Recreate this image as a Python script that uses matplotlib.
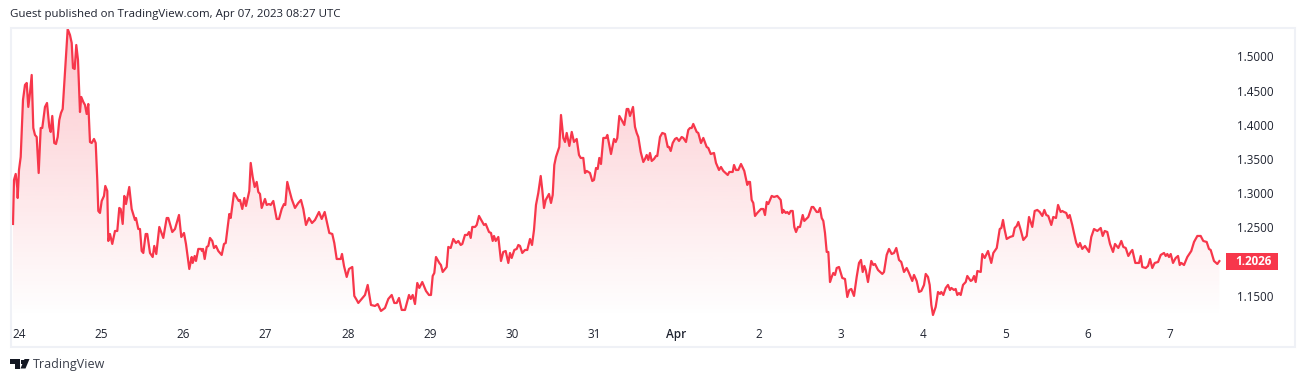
import numpy as np
import matplotlib
matplotlib.use('Agg')
from matplotlib import pyplot as plt
from matplotlib.patches import Rectangle, Polygon

# hours since Mar 24 00:00 UTC
hours = [-1.75,-1.46,-0.96,-0.5,-0.38,0,0.5,1.17,1.75,2.25,2.72,3.21,3.71,4.18,4.67,5.17,5.75,6.34,6.8,7.59,8.18,8.85,9.26,9.72,10.3,10.8,11.3,11.77,12.26,12.76,13.43,14.22,14.89,15.39,15.77,16.26,16.73,17.23,17.81,18.19,18.78,19.27,19.77,20.24,20.73,21.23,21.9,22.4,22.86,23.16,23.65,24.15,24.82,25.2,25.78,26.08,26.57,27.24,28.03,28.7,29.29,29.7,30.28,30.75,31.24,32.2,32.9,33.87,34.16,34.84,35.33,35.83,36.3,36.99,37.46,38.25,39.04,39.5,40.09,40.97,42.14,43.13,43.6,44.76,45.55,46.72,47.39,48.18,48.76,49.73,50.43,50.72,51.3,51.68,52.36,53.14,53.44,53.73,54.22,54.81,55.28,55.77,56.44,56.94,57.52,58.2,59.19,59.86,60.36,61.41,61.82,62.78,63.16,64.15,64.53,65.2,65.79,66.28,67.25,67.66,68.24,68.82,69.41,69.88,70.37,70.87,71.83,72.33,73.0,73.5,74.26,75.25,75.92,76.71,77.38,77.76,78.34,78.93,79.63,80.59,81.55,82.34,83.02,83.8,84.68,85.56,86.43,87.6,88.39,89.26,90.61,91.48,92.07,92.77,93.94,94.32,94.9,95.69,96.36,97.32,97.91,98.61,99.08,99.57,100.53,101.03,101.82,102.78,103.95,104.74,105.7,106.87,107.84,108.83,109.59,110.29,110.96,111.75,112.71,113.88,114.38,114.96,115.63,116.3,116.89,117.76,118.84,119.72,120.3,120.8,121.27,121.76,122.73,123.2,123.72,124.89,125.36,126.06,126.82,127.6,128.28,128.98,129.45,130.23,130.9,131.4,131.9,132.36,133.15,133.65,134.32,135.28,135.78,136.28,137.24,137.82,138.32,138.7,139.2,139.96,140.74,141.41,142.11,142.88,143.37,143.87,144.63,145.33,145.8,146.29,146.96,147.75,148.42,149.21,149.8,150.38,150.96,151.63,152.34,152.8,153.3,153.8,154.76,155.34,155.84,156.31,156.8,157.76,158.26,158.94,159.44,159.93,160.7,161.4,162.06,162.85,163.52,164.02,164.78,165.27,165.77,166.73,167.4,167.9,168.49,168.98,169.45,169.94,170.62,171.4,171.8,172.86,173.74,174.24,174.7,175.3,175.98,176.75,177.45,177.92,178.41,179.29,179.87,180.37,180.84,181.54,182.3,182.79,183.29,183.76,184.25,184.75,185.42,186.0,186.38,187.17,187.84,188.63,189.42,189.8,190.3,190.88,191.55,192.05,192.72,193.5,193.98,194.76,195.43,195.93,196.42,196.89,197.88,198.35,199.14,199.82,200.8,201.28,201.98,202.94,203.52,204.4,204.98,205.66,206.94,207.41,208.4,208.78,209.36,210.04,210.82,211.78,212.66,212.95,213.45,213.94,214.41,214.91,215.58,216.66,217.34,217.83,218.33,218.8,219.79,220.46,221.42,222.42,222.88,223.18,223.88,224.34,224.84,225.34,225.92,226.39,226.89,227.47,228.05,228.84,229.3,230.47,231.46,231.93,232.92,233.4,233.89,234.39,234.86,235.35,235.85,236.32,236.81,237.31,237.78,238.27,238.77,239.44,240.4,241.19,241.86,242.45,243.03,243.82,244.6,245.28,245.86,246.36,246.83,247.24,247.9,248.87,249.46,249.95,250.83,252.08,252.58,253.36,254.04,254.82,255.5,256.17,256.96,257.62,258.42,259.2,259.88,260.84,261.34,262.12,262.8,263.47,264.26,264.76,265.42,265.92,266.4,266.88,267.67,268.35,268.93,269.3,269.9,270.6,271.26,271.85,272.24,273.02,273.5,273.98,274.48,274.98,275.65,276.44,276.9,277.9,278.37,278.87,279.35,279.84,280.83,281.28,281.98,282.95,283.9,284.5,285.5,286.37,286.84,287.33,287.82,288.4,289.37,290.25,290.74,291.33,291.8,292.5,293.26,294.25,294.92,295.88,296.58,297.34,298.05,298.8,299.4,299.96,300.55,301.43,302.0,302.8,303.4,304.17,304.64,305.14,305.8,306.3,306.8,307.55,308.05,308.72,309.3,309.8,310.47,311.26,312.44,313.1,313.9,314.87,315.86,316.44,317.03,317.78,318.57,319.45,320.03,321.0,321.87,322.46,323.16,323.92,324.62,325.1,325.96,327.04,327.54,328.0,329.0,329.67,330.25,330.92,331.62,332.6,333.38,334.34,334.84,335.3,335.8,336.3,336.97,337.75,338.43,338.93,339.4,340.18,341.14,342.3,343.1,344.07,345.05,345.8,346.8,347.47,347.97,348.93,349.9,350.5]

prices = [1.2570,1.3214,1.3302,1.3097,1.2950,1.3360,1.3551,1.4385,1.4605,1.4634,1.4283,1.4488,1.4751,1.3975,1.3873,1.3843,1.3316,1.3975,1.3975,1.4283,1.4341,1.3990,1.3917,1.4151,1.3755,1.3741,1.3843,1.4092,1.4195,1.4253,1.4795,1.5424,1.5337,1.5220,1.4853,1.4839,1.5190,1.4971,1.4209,1.4429,1.4356,1.4312,1.4180,1.4326,1.3770,1.3755,1.3814,1.3755,1.3214,1.2760,1.2731,1.2906,1.2980,1.3126,1.3053,1.2321,1.2423,1.2277,1.2467,1.2467,1.2804,1.2789,1.2570,1.2980,1.2862,1.3111,1.2789,1.2628,1.2657,1.2496,1.2496,1.2174,1.2145,1.2423,1.2423,1.2145,1.2086,1.2248,1.2130,1.2526,1.2365,1.2657,1.2657,1.2452,1.2496,1.2701,1.2379,1.2438,1.2277,1.1911,1.2086,1.1999,1.2101,1.2028,1.2204,1.2204,1.2174,1.2204,1.2057,1.2233,1.2248,1.2365,1.2321,1.2218,1.2248,1.2174,1.2116,1.2277,1.2291,1.2716,1.2657,1.3023,1.2994,1.2906,1.2921,1.2789,1.2950,1.2833,1.3053,1.3463,1.3258,1.3111,1.3185,1.3038,1.3009,1.2804,1.2936,1.2848,1.2862,1.2848,1.2906,1.2643,1.2643,1.2789,1.2862,1.2848,1.3185,1.3067,1.2936,1.2804,1.2877,1.2921,1.2789,1.2555,1.2657,1.2584,1.2628,1.2745,1.2643,1.2745,1.2438,1.2423,1.2291,1.2057,1.2057,1.2130,1.1955,1.1794,1.1911,1.1940,1.1516,1.1457,1.1413,1.1442,1.1501,1.1530,1.1677,1.1384,1.1369,1.1398,1.1296,1.1340,1.1472,1.1530,1.1413,1.1413,1.1486,1.1311,1.1311,1.1530,1.1472,1.1530,1.1398,1.1706,1.1633,1.1720,1.1589,1.1530,1.1530,1.1808,1.1852,1.2086,1.1999,1.1969,1.1867,1.1940,1.2233,1.2218,1.2350,1.2291,1.2321,1.2262,1.2277,1.2409,1.2409,1.2452,1.2365,1.2526,1.2526,1.2555,1.2687,1.2599,1.2555,1.2570,1.2452,1.2438,1.2321,1.2394,1.2321,1.2379,1.2028,1.2160,1.2174,1.1999,1.2145,1.2072,1.2189,1.2204,1.2262,1.2248,1.2145,1.2189,1.2189,1.2350,1.2262,1.2482,1.2848,1.3023,1.3272,1.3067,1.2804,1.2921,1.3009,1.2877,1.2994,1.3433,1.3551,1.3697,1.4165,1.3829,1.3770,1.3902,1.3712,1.3917,1.3770,1.3814,1.3580,1.3536,1.3536,1.3316,1.3346,1.3316,1.3199,1.3214,1.3389,1.3375,1.3536,1.3448,1.3829,1.3829,1.3873,1.3594,1.3814,1.3770,1.3829,1.4151,1.4092,1.4019,1.4253,1.4253,1.4151,1.4283,1.3990,1.3902,1.3843,1.3624,1.3477,1.3521,1.3580,1.3507,1.3609,1.3492,1.3521,1.3565,1.3565,1.3843,1.3902,1.3887,1.3697,1.3697,1.3638,1.3755,1.3814,1.3829,1.3785,1.3843,1.3829,1.3770,1.3946,1.3975,1.3975,1.4034,1.3917,1.3902,1.3755,1.3829,1.3697,1.3682,1.3594,1.3609,1.3463,1.3360,1.3404,1.3346,1.3287,1.3331,1.3331,1.3433,1.3360,1.3360,1.3448,1.3346,1.3141,1.3185,1.3185,1.2921,1.2877,1.2687,1.2731,1.2789,1.2789,1.2701,1.2892,1.2862,1.2980,1.2965,1.2980,1.2921,1.2731,1.2775,1.2731,1.2745,1.2716,1.2760,1.2760,1.2526,1.2452,1.2526,1.2526,1.2701,1.2614,1.2672,1.2818,1.2818,1.2745,1.2745,1.2804,1.2657,1.2614,1.2438,1.2160,1.2160,1.1720,1.1794,1.1852,1.1823,1.1925,1.1940,1.1779,1.1764,1.1501,1.1603,1.1618,1.1516,1.1794,1.1999,1.2043,1.1867,1.1955,1.1896,1.1720,1.2028,1.1969,1.1984,1.1896,1.1838,1.1867,1.2116,1.2204,1.2130,1.2145,1.2218,1.2043,1.2013,1.1867,1.1925,1.1852,1.1735,1.1823,1.1735,1.1574,1.1589,1.1677,1.1838,1.1794,1.1677,1.1384,1.1237,1.1355,1.1574,1.1545,1.1574,1.1530,1.1633,1.1677,1.1603,1.1633,1.1603,1.1618,1.1530,1.1559,1.1530,1.1677,1.1720,1.1808,1.1735,1.1750,1.1808,1.1720,1.1881,1.1867,1.2130,1.2072,1.2174,1.1999,1.2145,1.2218,1.2496,1.2511,1.2628,1.2482,1.2350,1.2379,1.2394,1.2511,1.2540,1.2599,1.2482,1.2335,1.2394,1.2672,1.2526,1.2760,1.2775,1.2745,1.2687,1.2775,1.2701,1.2687,1.2555,1.2672,1.2657,1.2848,1.2745,1.2760,1.2745,1.2731,1.2657,1.2701,1.2555,1.2438,1.2291,1.2233,1.2291,1.2204,1.2248,1.2160,1.2379,1.2496,1.2467,1.2511,1.2394,1.2467,1.2452,1.2277,1.2160,1.2277,1.2218,1.2321,1.2233,1.2218,1.2101,1.2160,1.2189,1.1999,1.1999,1.2101,1.1940,1.1925,1.1955,1.2057,1.1925,1.1999,1.2013,1.2116,1.2145,1.2101,1.2130,1.2086,1.2130,1.1999,1.2072,1.2101,1.1969,1.1999,1.1969,1.2086,1.2174,1.2306,1.2394,1.2394,1.2321,1.2306,1.2204,1.2189,1.2028,1.1984,1.2026]

day_ticks = [0, 24, 48, 72, 96, 120, 144, 168, 192, 216, 240, 264, 288, 312, 336]
day_labels = ['24', '25', '26', '27', '28', '29', '30', '31', 'Apr', '2', '3', '4', '5', '6', '7']
# the 1.2000 label is hidden behind the last price badge in the original
price_ticks = [1.15, 1.25, 1.30, 1.35, 1.40, 1.45, 1.50]
last_price = 1.2026

W, H = 1304, 382
RED = '#f7374b'
TXT = '#1f2330'
plt.rcParams['font.family'] = ['Open Sans', 'DejaVu Sans']

fig = plt.figure(figsize=(W / 100, H / 100), dpi=100, facecolor='white')
ax = fig.add_axes([12 / W, 1 - 318 / H, (1226 - 12) / W, (318 - 27.5) / H])
ax.patch.set_alpha(0)

# outer frame
fig.add_artist(Rectangle((10.5 / W, 1 - 347 / H), 1284 / W, 319.5 / H, transform=fig.transFigure,
                         fill=False, edgecolor='#eff1f6', linewidth=1.5))

# area under the line, fading to nothing at the bottom
xlim = (-2.04, 352.44)
ylim = (1.1193, 1.5446)
alpha = np.linspace(0.28, 0, 256).reshape(-1, 1)
grad = np.zeros((256, 1, 4))
grad[..., 0] = 0xf7 / 255
grad[..., 1] = 0x37 / 255
grad[..., 2] = 0x4b / 255
grad[..., 3] = alpha
im = ax.imshow(grad, extent=[xlim[0], xlim[1], ylim[0], ylim[1]], aspect='auto', origin='upper', zorder=1)
area = ax.fill_between(hours, prices, ylim[0], facecolor='none', edgecolor='none')
im.set_clip_path(area.get_paths()[0], transform=ax.transData)

ax.plot(hours, prices, color=RED, linewidth=1.6, solid_joinstyle='round', zorder=2)
ax.set_xlim(xlim)
ax.set_ylim(ylim)

for s in ax.spines.values():
    s.set_visible(False)
ax.set_xticks(day_ticks)
ax.set_xticklabels(day_labels)
ax.yaxis.tick_right()
ax.set_yticks(price_ticks)
ax.set_yticklabels(['%.4f' % p for p in price_ticks])
ax.tick_params(axis='x', length=0, pad=7.5, labelsize=8.5, labelcolor=TXT)
ax.tick_params(axis='y', length=0, pad=8, labelsize=8.4, labelcolor=TXT)
ax.get_xticklabels()[8].set_fontweight('semibold')
for t in ax.get_yticklabels():
    t.set_verticalalignment('center')

# last price badge
trans = ax.get_yaxis_transform()
ax.add_patch(Rectangle((1.0, last_price - 0.0124), 52 / 1214, 0.0248, transform=trans,
                       facecolor=RED, edgecolor='none', clip_on=False, zorder=3))
ax.text(1 + 46 / 1214, last_price, '%.4f' % last_price, transform=trans, color='white', fontsize=8.4,
        fontweight='bold', ha='right', va='center', zorder=4)

fig.text(10 / W, 1 - 15 / H, 'Guest published on TradingView.com, Apr 07, 2023 08:27 UTC',
         fontsize=8.25, color=TXT, va='center', ha='left')
fig.text(33 / W, 1 - 364.5 / H, 'TradingView', fontsize=9, color='#3a3e4a', va='center', ha='left')

# logo
def px(pts):
    return [(x / W, 1 - y / H) for x, y in pts]

fig.add_artist(Polygon(px([(10, 359), (20, 359), (20, 368.5), (15, 368.5), (15, 363.5), (10, 363.5)]),
                       transform=fig.transFigure, facecolor='#131722', edgecolor='none'))
fig.add_artist(Polygon(px([(24.5, 359), (29.5, 359), (25.5, 368.5), (20.5, 368.5)]),
                       transform=fig.transFigure, facecolor='#131722', edgecolor='none'))
fig.add_artist(Rectangle((20.6 / W, 1 - 363.5 / H), 3 / W, 4 / H, transform=fig.transFigure,
                         facecolor='#131722', edgecolor='none'))

fig.savefig('out.png', dpi=100)
